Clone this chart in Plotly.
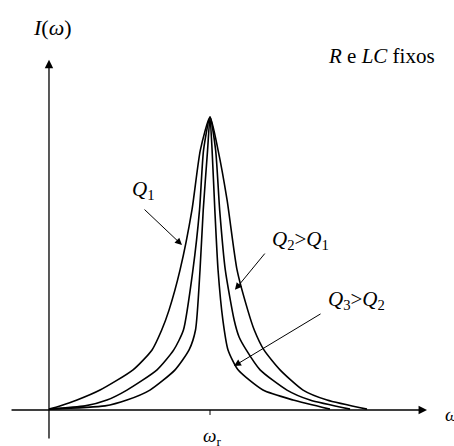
import plotly.graph_objects as go

# Data: omega in units of omega_r, current normalised to the peak
w_q1 = [0.0, 0.068, 0.174, 0.317, 0.522, 0.640, 0.700, 0.745, 0.814, 0.888, 0.940, 1.0,
        1.050, 1.106, 1.168, 1.235, 1.275, 1.335, 1.435, 1.578, 1.727, 1.975]
i_q1 = [0.003, 0.014, 0.034, 0.068, 0.137, 0.205, 0.273, 0.340, 0.478, 0.683, 0.887, 1.0,
        0.887, 0.717, 0.478, 0.340, 0.273, 0.205, 0.137, 0.068, 0.034, 0.003]

w_q2 = [0.0, 0.224, 0.360, 0.484, 0.671, 0.775, 0.835, 0.894, 0.935, 0.960, 1.0,
        1.035, 1.060, 1.095, 1.150, 1.180, 1.225, 1.311, 1.478, 1.621, 1.870]
i_q2 = [0.003, 0.014, 0.034, 0.068, 0.137, 0.205, 0.273, 0.478, 0.683, 0.887, 1.0,
        0.887, 0.683, 0.478, 0.307, 0.250, 0.205, 0.137, 0.068, 0.034, 0.003]

w_q3 = [0.0, 0.348, 0.484, 0.627, 0.783, 0.870, 0.910, 0.938, 0.958, 0.985, 1.0,
        1.013, 1.030, 1.050, 1.080, 1.112, 1.174, 1.329, 1.516, 1.745]
i_q3 = [0.003, 0.014, 0.034, 0.068, 0.137, 0.205, 0.273, 0.478, 0.683, 0.887, 1.0,
        0.887, 0.683, 0.478, 0.307, 0.205, 0.137, 0.068, 0.034, 0.003]

w_r = 1.0
x_range = [-0.3043, 2.5155]
y_range = [-0.1229, 1.3993]

FONT = "Liberation Serif"

fig = go.Figure()
for w, i in [(w_q1, i_q1), (w_q2, i_q2), (w_q3, i_q3)]:
    fig.add_trace(go.Scatter(x=w, y=i, mode="lines",
                             line=dict(color="black", width=1.6, shape="spline", smoothing=0.6),
                             hoverinfo="skip", showlegend=False))

ann = []
# axes with arrows
ann.append(dict(x=2.348, y=0, ax=-0.242, ay=0, xref="x", yref="y", axref="x", ayref="y",
                showarrow=True, arrowhead=2, arrowsize=1.3, arrowwidth=1.3, arrowcolor="black", text=""))
ann.append(dict(x=0, y=1.195, ax=0, ay=-0.102, xref="x", yref="y", axref="x", ayref="y",
                showarrow=True, arrowhead=2, arrowsize=1.3, arrowwidth=1.3, arrowcolor="black", text=""))
# pointer arrows
for (tx, ty, sx, sy) in [(0.826, 0.563, 0.584, 0.689),
                         (1.155, 0.410, 1.348, 0.539),
                         (1.149, 0.150, 1.696, 0.331)]:
    ann.append(dict(x=tx, y=ty, ax=sx, ay=sy, xref="x", yref="y", axref="x", ayref="y",
                    showarrow=True, arrowhead=2, arrowsize=1.4, arrowwidth=1, arrowcolor="black", text=""))

def label(x, y, text, size=17, xanchor="center"):
    ann.append(dict(x=x, y=y, xref="x", yref="y", text=text, showarrow=False,
                    xanchor=xanchor, yanchor="middle",
                    font=dict(family=FONT, size=size, color="black")))

label(0.019, 1.307, "<i>I</i>(<i>ω</i>)", 22)
label(2.068, 1.208, "<i>R</i> e <i>LC</i> fixos", 21)
label(1.012, -0.092, "<i>ω</i><sub>r</sub>", 19)
label(2.447, -0.014, "<i>ω</i>", 19, xanchor="left")
label(0.584, 0.751, "<i>Q</i><sub>1</sub>", 21)
label(1.559, 0.580, "<i>Q</i><sub>2</sub>><i>Q</i><sub>1</sub>", 21)
label(1.913, 0.375, "<i>Q</i><sub>3</sub>><i>Q</i><sub>2</sub>", 21)

fig.update_layout(
    width=454, height=446,
    margin=dict(l=0, r=0, t=0, b=0),
    paper_bgcolor="white", plot_bgcolor="white",
    xaxis=dict(range=x_range, visible=False, fixedrange=True),
    yaxis=dict(range=y_range, visible=False, fixedrange=True),
    annotations=ann,
    shapes=[dict(type="line", xref="x", yref="y", x0=w_r, x1=w_r, y0=0, y1=-0.017,
                 line=dict(color="black", width=1))],
)

fig.write_html("out.html", config={"displayModeBar": False},
               post_script="document.body.style.margin='0';document.body.style.overflow='hidden';")
